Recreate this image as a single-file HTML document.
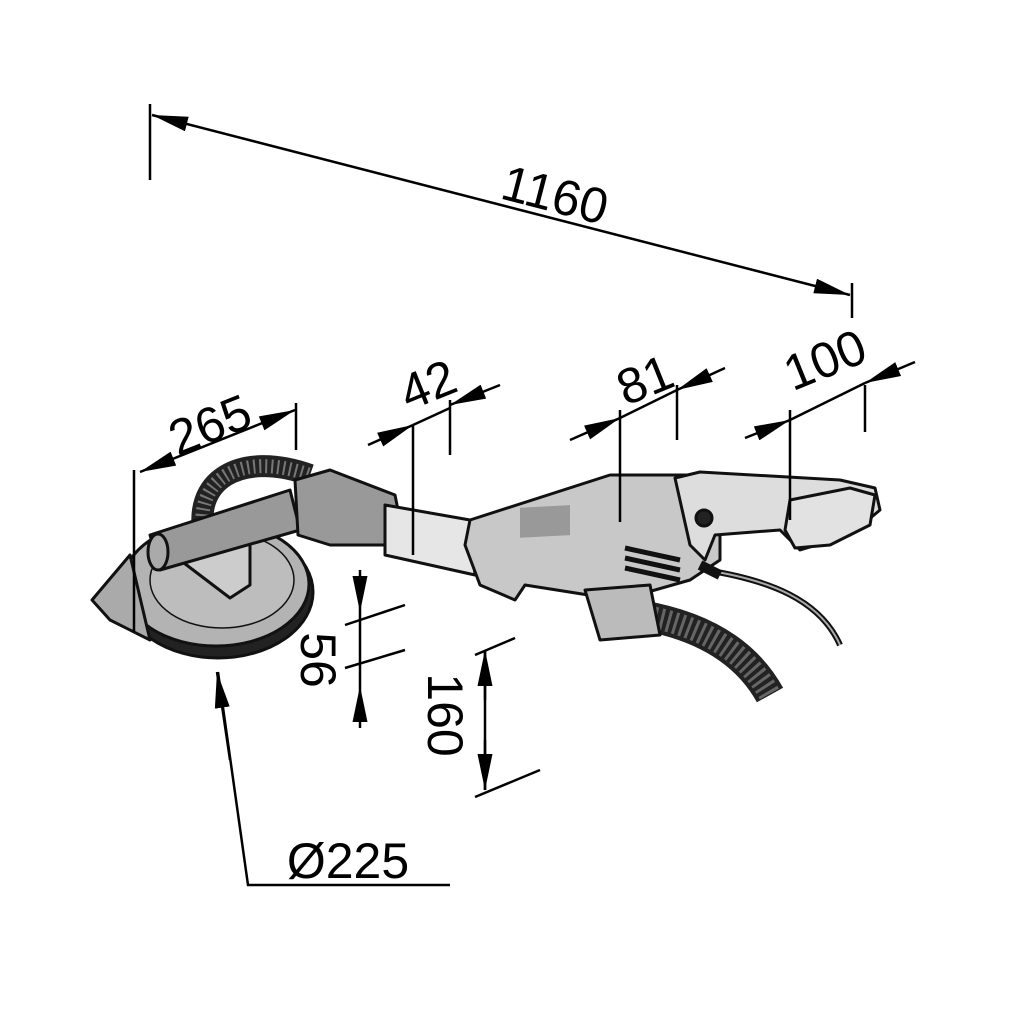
<!DOCTYPE html>
<html><head><style>html,body{margin:0;padding:0;background:#fff}svg{display:block}</style></head>
<body>
<svg width="1024" height="1021" viewBox="0 0 1024 1021" xmlns="http://www.w3.org/2000/svg" font-family="Liberation Sans, sans-serif">
<defs>
<marker id="b" viewBox="0 0 10 10" refX="10" refY="5" markerWidth="36" markerHeight="15" preserveAspectRatio="none" orient="auto-start-reverse" markerUnits="userSpaceOnUse"><path d="M0,0L10,5L0,10z" fill="#000"/></marker>
</defs>
<g stroke="#111" stroke-width="3" stroke-linejoin="round">
<path d="M705,570 C770,580 820,600 840,645" fill="none" stroke-width="6"/>
<path d="M705,570 C770,580 820,600 840,645" fill="none" stroke="#aaa" stroke-width="2"/>
<path d="M640,615 C700,625 745,650 770,695" fill="none" stroke="#222" stroke-width="30"/>
<path d="M640,615 C700,625 745,650 770,695" fill="none" stroke="#666" stroke-width="22" stroke-dasharray="3 4"/>
<ellipse cx="218" cy="592" rx="95" ry="66" fill="#222"/>
<ellipse cx="216" cy="584" rx="93" ry="62" fill="#b3b3b3"/>
<path d="M92,600 L130,555 L150,640 L110,620 Z" fill="#aaa"/>
<ellipse cx="222" cy="580" rx="72" ry="48" fill="#bdbdbd" stroke-width="1.5"/>
<path d="M205,540 C190,480 240,450 310,475" fill="none" stroke="#222" stroke-width="22"/>
<path d="M205,540 C190,480 240,450 310,475" fill="none" stroke="#777" stroke-width="14" stroke-dasharray="2 4"/>
<path d="M180,560 L250,540 L250,585 L230,598 Z" fill="#ccc"/>
<path d="M150,535 L290,490 L300,530 L160,570 Z" fill="#999"/>
<ellipse cx="158" cy="552" rx="10" ry="18" fill="#aaa"/>
<path d="M295,480 L330,470 L395,495 L405,545 L330,545 L298,535 Z" fill="#999"/>
<path d="M385,505 L470,520 L475,575 L385,555 Z" fill="#e6e6e6"/>
<path d="M470,520 L610,475 L720,475 L720,560 L690,580 L620,600 L525,585 L515,600 L480,585 L465,545 Z" fill="#c8c8c8"/>
<path d="M585,590 L650,585 L660,635 L600,640 Z" fill="#bbb"/>
<rect x="520" y="535" width="50" height="30" fill="#999" stroke="none" transform="skewY(-3)"/>
<g stroke-width="5"><line x1="625" y1="548" x2="680" y2="560"/><line x1="625" y1="558" x2="680" y2="570"/><line x1="625" y1="568" x2="680" y2="580"/></g>
<path d="M675,478 L700,472 L840,480 L875,488 L880,510 L850,535 L800,550 L780,530 L715,535 L705,560 L690,545 Z" fill="#ddd"/>
<path d="M790,500 L850,488 L875,495 L870,525 L830,545 L795,548 L785,530 Z" fill="#e2e2e2"/>
<circle cx="704" cy="518" r="8" fill="#222"/>
<path d="M700,565 L720,575" stroke-width="10"/>
</g>
<g stroke="#000" stroke-width="2.5" fill="none">
<line x1="150" y1="104" x2="150" y2="180"/>
<line x1="852" y1="283" x2="852" y2="318"/>
<line x1="152" y1="115" x2="850" y2="295" marker-start="url(#b)" marker-end="url(#b)"/>
<line x1="134" y1="470" x2="134" y2="632"/>
<line x1="296" y1="403" x2="296" y2="450"/>
<line x1="140" y1="472" x2="295" y2="410" marker-start="url(#b)" marker-end="url(#b)"/>
<line x1="413" y1="425" x2="413" y2="555"/><line x1="450" y1="400" x2="450" y2="455"/>
<line x1="368" y1="445" x2="413" y2="425" marker-end="url(#b)"/>
<line x1="500" y1="385" x2="450" y2="405" marker-end="url(#b)"/>
<line x1="413" y1="425" x2="450" y2="408"/>
<line x1="620" y1="410" x2="620" y2="522"/><line x1="677" y1="385" x2="677" y2="440"/>
<line x1="570" y1="440" x2="620" y2="418" marker-end="url(#b)"/>
<line x1="725" y1="368" x2="677" y2="390" marker-end="url(#b)"/>
<line x1="620" y1="418" x2="677" y2="390"/>
<line x1="790" y1="410" x2="790" y2="520"/><line x1="865" y1="385" x2="865" y2="432"/>
<line x1="745" y1="438" x2="790" y2="420" marker-end="url(#b)"/>
<line x1="915" y1="362" x2="865" y2="383" marker-end="url(#b)"/>
<line x1="790" y1="420" x2="865" y2="383"/>
<line x1="360" y1="570" x2="360" y2="612" marker-end="url(#b)"/>
<line x1="360" y1="728" x2="360" y2="686" marker-end="url(#b)"/>
<line x1="360" y1="612" x2="360" y2="686"/>
<line x1="345" y1="625" x2="405" y2="605"/><line x1="345" y1="668" x2="405" y2="650"/>
<line x1="485" y1="650" x2="485" y2="790"/>
<line x1="485" y1="700" x2="485" y2="650" marker-end="url(#b)"/>
<line x1="485" y1="740" x2="485" y2="790" marker-end="url(#b)"/>
<line x1="475" y1="655" x2="515" y2="638"/><line x1="475" y1="797" x2="540" y2="770"/>
<polyline points="450,885 248,885 218,672"/>
<line x1="230" y1="760" x2="217" y2="672" marker-end="url(#b)"/>
</g>
<g font-size="50" fill="#000">
<text x="555" y="212" text-anchor="middle" transform="rotate(14.5 555 195)">1160</text>
<text x="210" y="442" text-anchor="middle" transform="rotate(-22 210 425)">265</text>
<text x="428" y="402" text-anchor="middle" transform="rotate(-22 428 385)">42</text>
<text x="645" y="397" text-anchor="middle" transform="rotate(-22 645 380)">81</text>
<text x="825" y="377" text-anchor="middle" transform="rotate(-22 825 360)">100</text>
<text x="318" y="677" text-anchor="middle" transform="rotate(90 318 660)">56</text>
<text x="445" y="732" text-anchor="middle" transform="rotate(90 445 715)">160</text>
<text x="348" y="878" text-anchor="middle">Ø225</text>
</g>
</svg>
</body></html>
